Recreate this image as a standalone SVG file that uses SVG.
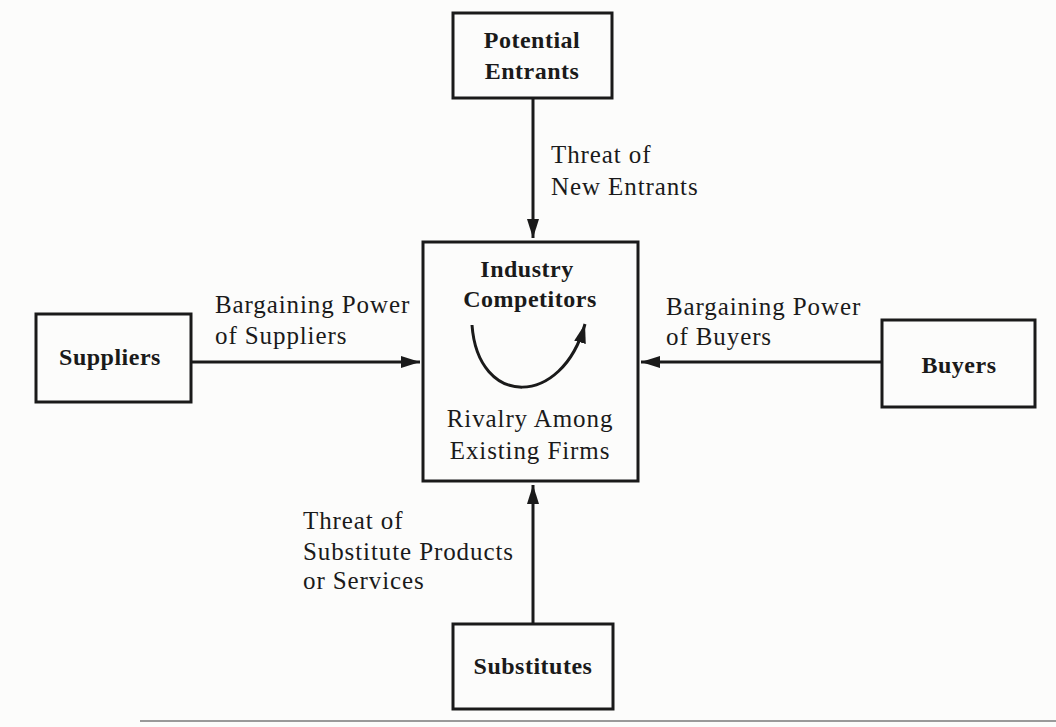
<svg xmlns="http://www.w3.org/2000/svg" width="1056" height="727" viewBox="0 0 1056 727">
  <style>
    .box { fill: none; stroke: #1a1a1a; stroke-width: 3; }
    .link { fill: none; stroke: #1a1a1a; stroke-width: 3; }
    .title { font-family: "Liberation Serif", "Times New Roman", serif; font-weight: bold; font-size: 24px; letter-spacing: 0.5px; fill: #1a1a1a; text-anchor: middle; }
    .label { font-family: "Liberation Serif", "Times New Roman", serif; font-size: 25px; letter-spacing: 0.9px; fill: #1a1a1a; }
    .mid { text-anchor: middle; }
  </style>
  <defs>
    <marker id="head" markerUnits="userSpaceOnUse" markerWidth="20" markerHeight="14" refX="19" refY="7" orient="auto">
      <path d="M0,1 L19,7 L0,13 Z" fill="#1a1a1a"/>
    </marker>
  </defs>

  <!-- paper -->
  <rect x="0" y="0" width="1056" height="727" fill="#fcfcfb"/>
  <line x1="140" y1="721" x2="1056" y2="721" stroke="#9a9a9a" stroke-width="2"/>

  <!-- connectors -->
  <g id="connectors">
    <line class="link" x1="533" y1="98" x2="533" y2="238" marker-end="url(#head)"/>
    <line class="link" x1="191" y1="362" x2="420" y2="362" marker-end="url(#head)"/>
    <line class="link" x1="882" y1="362" x2="641" y2="362" marker-end="url(#head)"/>
    <line class="link" x1="533" y1="624" x2="533" y2="485" marker-end="url(#head)"/>
    <text class="label" x="551" y="163">Threat of</text>
    <text class="label" x="551" y="195">New Entrants</text>
    <text class="label" x="215" y="313">Bargaining Power</text>
    <text class="label" x="215" y="344">of Suppliers</text>
    <text class="label" x="666" y="315">Bargaining Power</text>
    <text class="label" x="666" y="345">of Buyers</text>
    <text class="label" x="303" y="529">Threat of</text>
    <text class="label" x="303" y="560">Substitute Products</text>
    <text class="label" x="303" y="589">or Services</text>
  </g>

  <!-- top node -->
  <g id="potential-entrants">
    <rect class="box" x="453" y="13" width="159" height="85"/>
    <text class="title" x="532" y="48">Potential</text>
    <text class="title" x="532" y="79">Entrants</text>
  </g>

  <!-- central node with rivalry loop -->
  <g id="industry-competitors">
    <rect class="box" x="423" y="242" width="215" height="239"/>
    <text class="title" x="527" y="277">Industry</text>
    <text class="title" x="530" y="307">Competitors</text>
    <path class="link" d="M472,325 C478,408 562,408 585,324" marker-end="url(#head)"/>
    <text class="label mid" x="530" y="427">Rivalry Among</text>
    <text class="label mid" x="530" y="459">Existing Firms</text>
  </g>

  <!-- left node -->
  <g id="suppliers">
    <rect class="box" x="36" y="314" width="155" height="88"/>
    <text class="title" x="110" y="365">Suppliers</text>
  </g>

  <!-- right node -->
  <g id="buyers">
    <rect class="box" x="882" y="320" width="153" height="87"/>
    <text class="title" x="959" y="373">Buyers</text>
  </g>

  <!-- bottom node -->
  <g id="substitutes">
    <rect class="box" x="453" y="624" width="160" height="85"/>
    <text class="title" x="533" y="674">Substitutes</text>
  </g>
</svg>
